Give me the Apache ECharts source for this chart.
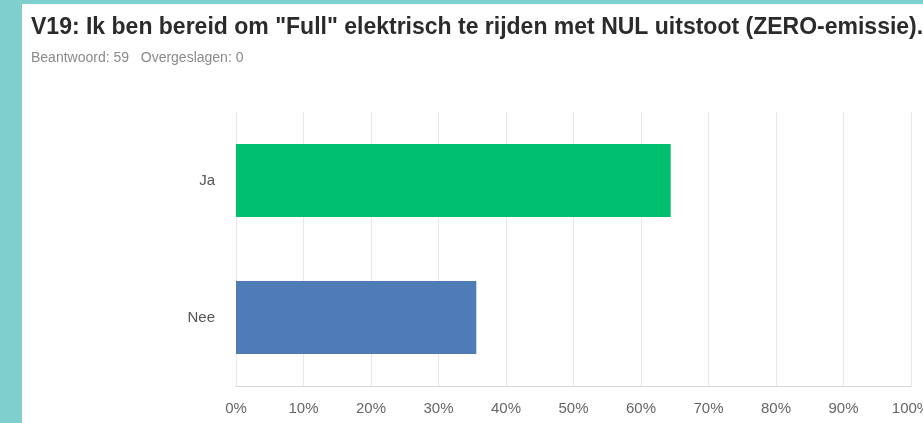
<!DOCTYPE html>
<html><head><meta charset="utf-8">
<script src="https://cdn.jsdelivr.net/npm/echarts@6/dist/echarts.min.js"></script>
<style>html,body{margin:0;padding:0;background:#fff}#c{width:923px;height:423px}</style>
</head><body><div id="c"></div>
<script>
const titleText = 'V19: Ik ben bereid om "Full" elektrisch te rijden met NUL uitstoot (ZERO-emissie).';
const subtitleText = 'Beantwoord: 59   Overgeslagen: 0';
const categories = ['Nee', 'Ja'];
const values = [35.6, 64.4];
const barColors = ['#4f7bb6', '#00bf6f'];
const xTicks = [0, 10, 20, 30, 40, 50, 60, 70, 80, 90, 100];

const chart = echarts.init(document.getElementById('c'));
chart.setOption({
  backgroundColor: '#ffffff',
  animation: false,
  title: [{
    text: titleText,
    left: 26, top: 11,
    textStyle: {fontFamily: 'Liberation Sans, Arial', fontWeight: 'bold', fontSize: 23, color: '#2b2b2b'}
  }, {
    text: subtitleText,
    left: 26, top: 46,
    textStyle: {fontFamily: 'Liberation Sans, Arial', fontWeight: 'normal', fontSize: 14, color: '#8a8a8a'}
  }],
  graphic: [
    {type: 'rect', left: 0, top: 0, shape: {width: 923, height: 4}, style: {fill: '#7fcfcf'}, z: 100},
    {type: 'rect', left: 0, top: 0, shape: {width: 22, height: 423}, style: {fill: '#7fcfcf'}, z: 100}
  ],
  grid: {left: 236, right: 12, top: 112, bottom: 37, containLabel: false, outerBoundsMode: 'none'},
  xAxis: {
    type: 'value', min: 0, max: 100, interval: 10,
    axisLine: {show: true, lineStyle: {color: '#d6d6d6'}},
    axisTick: {show: false},
    splitLine: {show: true, lineStyle: {color: '#e8e8e8'}},
    axisLabel: {margin: 15, color: '#666', fontSize: 15, fontFamily: 'Liberation Sans, Arial', formatter: v => xTicks.includes(v) ? v + '%' : ''}
  },
  yAxis: {
    type: 'category', data: categories,
    axisLine: {show: true, lineStyle: {color: '#e8e8e8'}},
    axisTick: {show: false},
    axisLabel: {margin: 21, color: '#555', fontSize: 15, fontFamily: 'Liberation Sans, Arial'}
  },
  series: [{
    type: 'bar', barWidth: 73,
    data: values.map((v, i) => ({value: v, itemStyle: {color: barColors[i]}}))
  }]
});
</script></body></html>
